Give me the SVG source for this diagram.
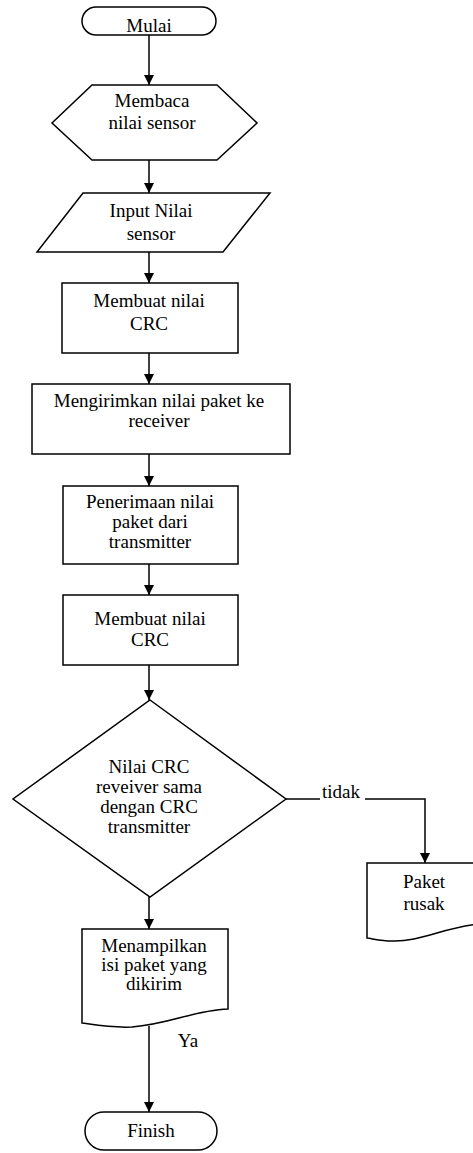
<svg xmlns="http://www.w3.org/2000/svg" width="473" height="1153" viewBox="0 0 473 1153">
<defs>
<marker id="arr" viewBox="0 0 10 10" refX="10" refY="5" markerWidth="10" markerHeight="10" markerUnits="userSpaceOnUse" orient="auto">
<path d="M0,0 L10,5 L0,10 Z" fill="#000"/>
</marker>
<style>
.s{fill:#fff;stroke:#000;stroke-width:1.5}
.t{font-family:"Liberation Serif","Times New Roman",serif;font-size:19px;fill:#000;text-anchor:middle}
.c{fill:none;stroke:#000;stroke-width:1.5}
</style>
</defs>
<rect width="473" height="1153" fill="#fff"/>
<g id="connectors">
<line class="c" x1="149" y1="35" x2="149" y2="85" marker-end="url(#arr)"/>
<line class="c" x1="149" y1="160" x2="149" y2="193" marker-end="url(#arr)"/>
<line class="c" x1="149" y1="252" x2="149" y2="283" marker-end="url(#arr)"/>
<line class="c" x1="149" y1="353" x2="149" y2="384" marker-end="url(#arr)"/>
<line class="c" x1="149" y1="454" x2="149" y2="486" marker-end="url(#arr)"/>
<line class="c" x1="149" y1="564" x2="149" y2="595" marker-end="url(#arr)"/>
<line class="c" x1="149" y1="665" x2="149" y2="700" marker-end="url(#arr)"/>
<line class="c" x1="149" y1="897" x2="149" y2="929" marker-end="url(#arr)"/>
<line class="c" x1="149" y1="1026" x2="149" y2="1112" marker-end="url(#arr)"/>
<line class="c" x1="286" y1="799" x2="320" y2="799"/>
<polyline class="c" points="365,799 425,799 425,863" marker-end="url(#arr)"/>
<text class="t" x="341" y="798">tidak</text>
<text class="t" x="188" y="1047">Ya</text>
</g>
<g id="mulai">
<rect class="s" x="82" y="7" width="134" height="28" rx="14"/>
<text class="t" x="149" y="32">Mulai</text>
</g>
<g id="membaca">
<polygon class="s" points="92,85 217,85 257,123 217,160 92,160 52,123"/>
<text class="t" x="152" y="107">Membaca</text>
<text class="t" x="152" y="129">nilai sensor</text>
</g>
<g id="input">
<polygon class="s" points="83,193 270,193 223,252 37,252"/>
<text class="t" x="151" y="217">Input Nilai</text>
<text class="t" x="151" y="240">sensor</text>
</g>
<g id="crc1">
<rect class="s" x="62" y="283" width="176" height="70"/>
<text class="t" x="149" y="307">Membuat nilai</text>
<text class="t" x="149" y="330">CRC</text>
</g>
<g id="kirim">
<rect class="s" x="32" y="384" width="258" height="70"/>
<text class="t" x="159" y="407">Mengirimkan nilai paket ke</text>
<text class="t" x="159" y="427">receiver</text>
</g>
<g id="terima">
<rect class="s" x="63" y="486" width="175" height="78"/>
<text class="t" x="150" y="508">Penerimaan nilai</text>
<text class="t" x="150" y="528">paket dari</text>
<text class="t" x="150" y="548">transmitter</text>
</g>
<g id="crc2">
<rect class="s" x="63" y="595" width="175" height="70"/>
<text class="t" x="150" y="625">Membuat nilai</text>
<text class="t" x="150" y="646">CRC</text>
</g>
<g id="decision">
<polygon class="s" points="150,700 286,799 150,897 13,799"/>
<text class="t" x="149" y="773">Nilai CRC</text>
<text class="t" x="149" y="793">reveiver sama</text>
<text class="t" x="149" y="813">dengan CRC</text>
<text class="t" x="149" y="833">transmitter</text>
</g>
<g id="rusak">
<path class="s" d="M367,863 H480 V924 C445,927 420,942 392,941 C382,941 374,939 367,938 Z"/>
<text class="t" x="424" y="888">Paket</text>
<text class="t" x="424" y="910">rusak</text>
</g>
<g id="tampil">
<path class="s" d="M82,929 H228 V1009 C195,1010 170,1024 132,1027 C112,1028 96,1025 82,1023 Z"/>
<text class="t" x="154" y="952">Menampilkan</text>
<text class="t" x="154" y="971">isi paket yang</text>
<text class="t" x="154" y="990">dikirim</text>
</g>
<g id="finish">
<rect class="s" x="85" y="1112" width="132" height="38" rx="19"/>
<text class="t" x="151" y="1137">Finish</text>
</g>
</svg>
